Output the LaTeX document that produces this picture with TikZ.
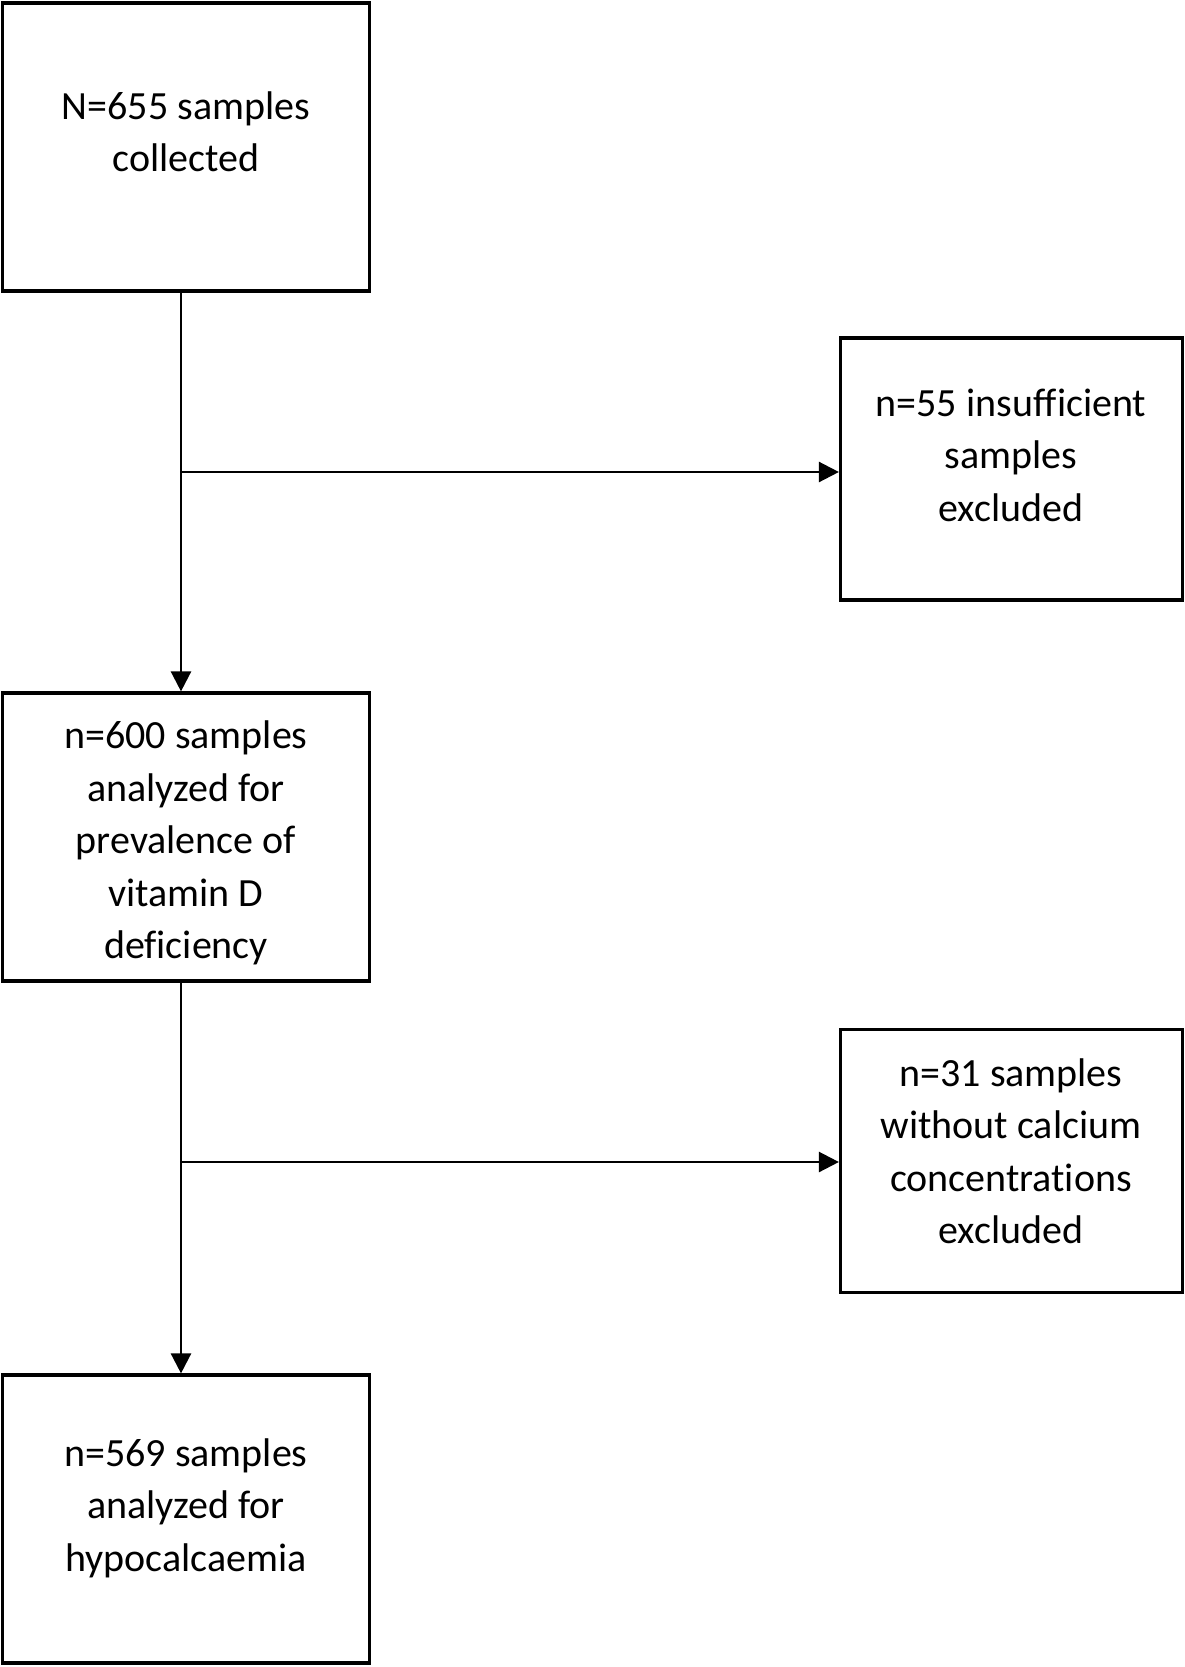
\documentclass[tikz,border=0pt]{standalone}
\usepackage{fontspec}
\setmainfont[Ligatures=NoCommon]{Carlito}
\usetikzlibrary{arrows.meta}
\tikzset{
  boxnode/.style={draw=black, line width=3.2pt, rectangle, inner sep=0pt},
  txt/.style={align=center, font=\fontsize{40}{52.5}\selectfont, inner sep=0pt},
  conn/.style={draw=black, line width=2.5pt},
  arr/.style={conn, -{Triangle[length=20pt,width=20pt]}}
}
\begin{document}
\begin{tikzpicture}[x=1pt,y=-1pt]
\useasboundingbox (0,0) rectangle (1185,1667);
% boxes
\node[boxnode, minimum width=367pt, minimum height=288pt] (b1) at (186,147) {};
\node[boxnode, minimum width=342pt, minimum height=262pt] (b2) at (1011.5,469) {};
\node[boxnode, minimum width=367pt, minimum height=288pt] (b3) at (186,837) {};
\node[boxnode, minimum width=342pt, minimum height=263pt] (b4) at (1011.5,1161) {};
\node[boxnode, minimum width=367pt, minimum height=288pt] (b5) at (186,1519) {};
% texts
\node[txt] (t1) at (186,132) {N=655 samples\\collected};
\node[txt] (t2) at (1011,455) {n=55 insufficient\\samples\\excluded};
\node[txt] (t3) at (186,843) {n=600 samples\\analyzed for\\prevalence of\\vitamin D\\deficiency};
\node[txt] (t4) at (1011,1151) {n=31 samples\\without calcium\\concentrations\\excluded};
\node[txt] (t5) at (186,1508) {n=569 samples\\analyzed for\\hypocalcaemia};
% junctions
\coordinate (j1) at (181,472);
\coordinate (j2) at (181,1162);
% connectors
\draw[arr] (b1.south -| j1) -- (b3.north -| j1);
\draw[arr] (j1) -- (b2.west |- j1);
\draw[arr] (b3.south -| j2) -- (b5.north -| j2);
\draw[arr] (j2) -- (b4.west |- j2);
\end{tikzpicture}
\end{document}
